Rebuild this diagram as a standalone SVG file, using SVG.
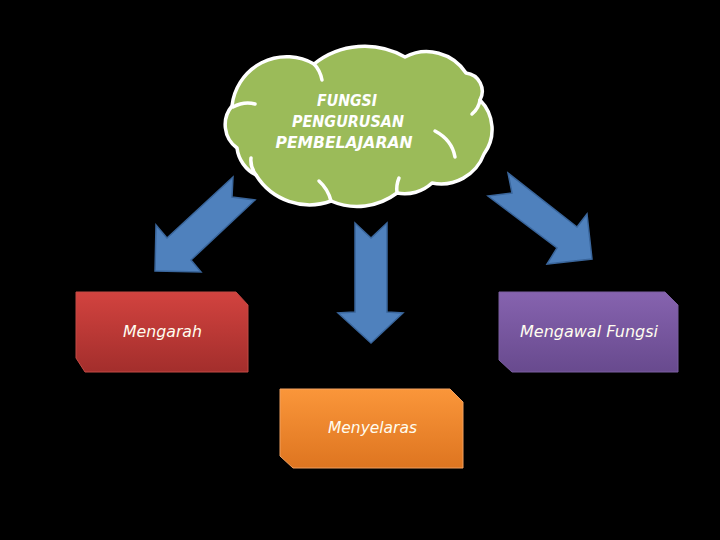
<svg xmlns="http://www.w3.org/2000/svg" width="720" height="540" viewBox="0 0 720 540">
  <defs>
    <linearGradient id="gRed" x1="0" y1="0" x2="0" y2="1">
      <stop offset="0" stop-color="#D2433F"/>
      <stop offset="1" stop-color="#A32E2C"/>
    </linearGradient>
    <linearGradient id="gOrange" x1="0" y1="0" x2="0" y2="1">
      <stop offset="0" stop-color="#FA963A"/>
      <stop offset="1" stop-color="#DE7520"/>
    </linearGradient>
    <linearGradient id="gPurple" x1="0" y1="0" x2="0" y2="1">
      <stop offset="0" stop-color="#8663AF"/>
      <stop offset="1" stop-color="#684A8E"/>
    </linearGradient>
    <style>
      .arrow { fill: #4F81BD; stroke: #3A669C; stroke-width: 1.5; stroke-linejoin: miter; }
      .cloud { fill: #9BBB59; stroke: #FFFFFF; stroke-width: 3.5; stroke-linejoin: round; }
      .inner { fill: none; stroke: #FFFFFF; stroke-width: 3.5; stroke-linecap: round; }
      .ctext { font-family: "DejaVu Sans", sans-serif; font-style: italic; font-weight: bold; font-size: 15px; fill: #FFFFFF; text-anchor: middle; }
      .btext { font-family: "DejaVu Sans", sans-serif; font-style: italic; font-size: 16px; fill: #FFFDF0; }
      .box { stroke-width: 1; }
    </style>
  </defs>
  <rect x="0" y="0" width="720" height="540" fill="#000000"/>

  <g id="connectors">
    <polygon class="arrow" points="233,177 232,197 255,200 191,260 201,272 155,271 156,225 167,238"/>
    <polygon class="arrow" points="355,223 371,238 387,223 387,312 403,313 371,343 338,313 355,312"/>
    <polygon class="arrow" points="508,173 512,193 488,196 557,248 547,264 592,259 587,214 577,227"/>
  </g>

  <g id="cloud">
    <path class="cloud" d="M232,106
      A55,55 0 0 1 314,64
      A81,81 0 0 1 405,57
      A47,47 0 0 1 466,73
      A18.4,18.4 0 0 1 480,100
      A41.6,41.6 0 0 1 484,154
      A45.8,45.8 0 0 1 432,183
      A40,40 0 0 1 397,193
      A66,66 0 0 1 331,201
      A63,63 0 0 1 256,175
      A35,35 0 0 1 237,148
      A29,29 0 0 1 232,106 Z"/>
    <path class="inner" d="M233,107 Q244,101 255,104"/>
    <path class="inner" d="M314,64 Q320,70 322,80"/>
    <path class="inner" d="M480,100 Q479,108 472,114"/>
    <path class="inner" d="M435,131 Q452,140 455,157"/>
    <path class="inner" d="M397,193 Q396,185 399,178"/>
    <path class="inner" d="M331,201 Q328,189 319,181"/>
    <path class="inner" d="M256,175 Q250,167 251,158"/>
    <text class="ctext" x="347" y="106" textLength="60" lengthAdjust="spacingAndGlyphs">FUNGSI</text>
    <text class="ctext" x="348" y="127" textLength="112" lengthAdjust="spacingAndGlyphs">PENGURUSAN</text>
    <text class="ctext" x="344" y="148" textLength="137" lengthAdjust="spacingAndGlyphs">PEMBELAJARAN</text>
  </g>

  <g id="box-mengarah">
    <polygon class="box" fill="url(#gRed)" stroke="#C24A44" points="76,292 236,292 248,305 248,372 85,372 76,358"/>
    <text class="btext" x="123" y="337" textLength="79" lengthAdjust="spacingAndGlyphs">Mengarah</text>
  </g>

  <g id="box-menyelaras">
    <polygon class="box" fill="url(#gOrange)" stroke="#F0A060" points="280,389 450,389 463,402 463,468 293,468 280,456"/>
    <text class="btext" x="328" y="433" textLength="89" lengthAdjust="spacingAndGlyphs">Menyelaras</text>
  </g>

  <g id="box-mengawal">
    <polygon class="box" fill="url(#gPurple)" stroke="#7A5EA0" points="499,292 665,292 678,305 678,372 512,372 499,360"/>
    <text class="btext" x="520" y="337" textLength="138" lengthAdjust="spacingAndGlyphs">Mengawal Fungsi</text>
  </g>
</svg>
